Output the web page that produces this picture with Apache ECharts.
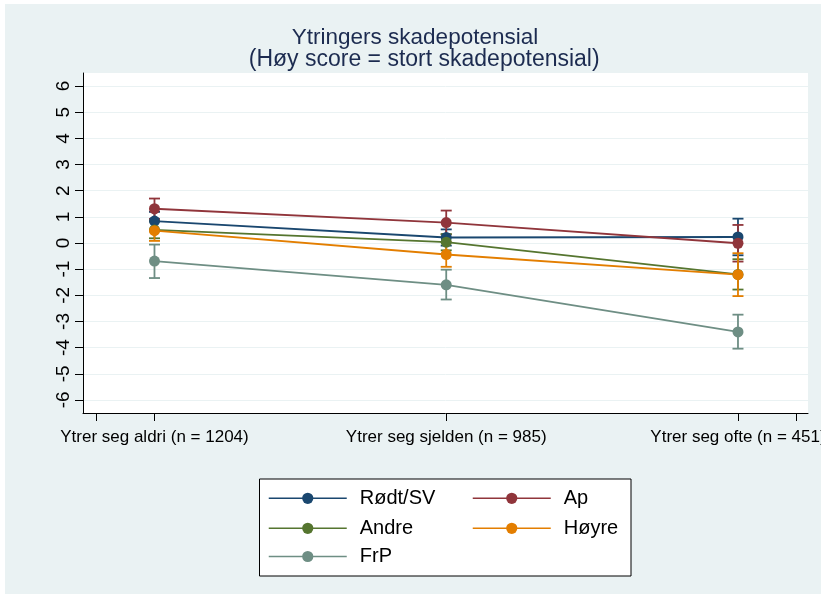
<!DOCTYPE html>
<html><head><meta charset="utf-8">
<script src="https://cdn.jsdelivr.net/npm/echarts@6/dist/echarts.min.js"></script>
<style>
html,body{margin:0;padding:0;background:#fff;overflow:hidden;}
#bg{position:absolute;left:5px;top:4px;width:816px;height:590px;background:#eaf2f3;}
#c{position:absolute;left:0;top:0;width:821px;height:594px;}
</style></head>
<body><div id="bg"></div><div id="c"></div>
<script>
// ---- data ----
const categories = ['Ytrer seg aldri (n = 1204)', 'Ytrer seg sjelden (n = 985)', 'Ytrer seg ofte (n = 451)'];
const xPositions = [1, 2, 3];
const seriesNames = ['Rødt/SV', 'Ap', 'Andre', 'Høyre', 'FrP'];
const rodtSV     = [0.84, 0.21, 0.23];
const rodtSVLow  = [0.49, -0.10, -0.47];
const rodtSVHigh = [1.19, 0.52, 0.93];
const ap         = [1.31, 0.78, -0.01];
const apLow      = [0.92, 0.33, -0.71];
const apHigh     = [1.70, 1.24, 0.69];
const andre      = [0.50, 0.03, -1.20];
const andreLow   = [0.18, -0.28, -1.78];
const andreHigh  = [0.82, 0.34, -0.62];
const hoyre      = [0.47, -0.44, -1.21];
const hoyreLow   = [0.08, -0.91, -2.03];
const hoyreHigh  = [0.86, 0.03, -0.39];
const frp        = [-0.69, -1.60, -3.40];
const frpLow     = [-1.34, -2.16, -4.04];
const frpHigh    = [-0.06, -1.02, -2.74];
const yTickValues = [-6, -5, -4, -3, -2, -1, 0, 1, 2, 3, 4, 5, 6];
const xTickValues = [0.8, 1, 2, 3, 3.2];
const titleText = 'Ytringers skadepotensial';
const subtitleText = ' (Høy score = stort skadepotensial)';

// ---- styles ----
const colors = ['#1a476f', '#90353b', '#55752f', '#e37e00', '#6e8e84'];
const FONT = '"Liberation Sans", Arial, Helvetica, sans-serif';
const means = [rodtSV, ap, andre, hoyre, frp];
const lows = [rodtSVLow, apLow, andreLow, hoyreLow, frpLow];
const highs = [rodtSVHigh, apHigh, andreHigh, hoyreHigh, frpHigh];

const series = [];
seriesNames.forEach((name, i) => {
  const col = colors[i];
  series.push({
    name: name + ' KI',
    type: 'custom',
    z: 2,
    silent: true,
    data: xPositions.map((x, j) => [x, lows[i][j], highs[i][j]]),
    renderItem: (params, api) => {
      const x = api.value(0);
      const pLo = api.coord([x, api.value(1)]);
      const pHi = api.coord([x, api.value(2)]);
      const hw = 5.5;
      const st = { stroke: col, lineWidth: 1.8 };
      return { type: 'group', children: [
        { type: 'line', shape: { x1: pLo[0], y1: pLo[1], x2: pHi[0], y2: pHi[1] }, style: st },
        { type: 'line', shape: { x1: pLo[0] - hw, y1: pLo[1], x2: pLo[0] + hw, y2: pLo[1] }, style: st },
        { type: 'line', shape: { x1: pHi[0] - hw, y1: pHi[1], x2: pHi[0] + hw, y2: pHi[1] }, style: st }
      ]};
    }
  });
});
seriesNames.forEach((name, i) => {
  series.push({
    name: name,
    type: 'line',
    z: 3,
    data: xPositions.map((x, j) => [x, means[i][j]]),
    symbol: 'circle',
    symbolSize: 11,
    color: colors[i],
    itemStyle: { color: colors[i] },
    lineStyle: { color: colors[i], width: 1.8 },
    emphasis: { disabled: true },
    animation: false
  });
});

const legendLeft = [268, 472, 268, 472, 268];
const legendRowCenter = [498.3, 498.3, 528.3, 528.3, 556.5];
const legends = seriesNames.map((n, i) => ({
  data: [n],
  left: legendLeft[i],
  top: legendRowCenter[i] - 10,
  padding: 0,
  itemWidth: 78,
  itemHeight: 14,
  selectedMode: false,
  z: 6,
  itemStyle: { color: colors[i] },
  lineStyle: { color: colors[i], width: 1.5 },
  textStyle: { fontFamily: FONT, fontSize: 20, color: '#000', padding: [0, 0, 0, 8] }
}));

const chart = echarts.init(document.getElementById('c'), null, { renderer: 'canvas' });
chart.setOption({
  backgroundColor: 'transparent',
  animation: false,
  title: [
    { text: titleText, left: 415, top: 26, textAlign: 'center', padding: 0,
      textStyle: { fontFamily: FONT, fontSize: 22.5, fontWeight: 'normal', color: '#1c2b50' } },
    { text: subtitleText, left: 421, top: 48.5, textAlign: 'center', padding: 0,
      textStyle: { fontFamily: FONT, fontSize: 23, fontWeight: 'normal', color: '#1c2b50' } }
  ],
  legend: legends,
  graphic: [{
    type: 'rect', z: 1,
    shape: { x: 259.5, y: 479, width: 371.5, height: 97 },
    style: { fill: '#fff', stroke: '#000', lineWidth: 1 }
  }],
  grid: { left: 83, right: 13, top: 73, bottom: 181, show: true, backgroundColor: '#fff', borderWidth: 0,
    containLabel: false, outerBoundsMode: 'none' },
  xAxis: {
    type: 'value', min: 0.755, max: 3.24,
    axisLine: { show: true, onZero: false, lineStyle: { color: '#000', width: 1 } },
    axisTick: { show: true, length: 8, customValues: xTickValues, lineStyle: { color: '#000' } },
    axisLabel: { customValues: xPositions, margin: 16, fontFamily: FONT, fontSize: 17, color: '#000',
      hideOverlap: false, formatter: v => categories[Math.round(v) - 1] },
    splitLine: { show: false }
  },
  yAxis: {
    type: 'value', min: -6.5, max: 6.5,
    axisLine: { show: true, onZero: false, lineStyle: { color: '#000', width: 1 } },
    axisTick: { show: true, length: 8, customValues: yTickValues, lineStyle: { color: '#000' } },
    axisLabel: { customValues: yTickValues, rotate: 90, margin: 10, fontFamily: FONT, fontSize: 19, color: '#000' },
    splitLine: { show: true, lineStyle: { color: '#eaf2f3', width: 1 } }
  },
  series: series
});
</script></body></html>
